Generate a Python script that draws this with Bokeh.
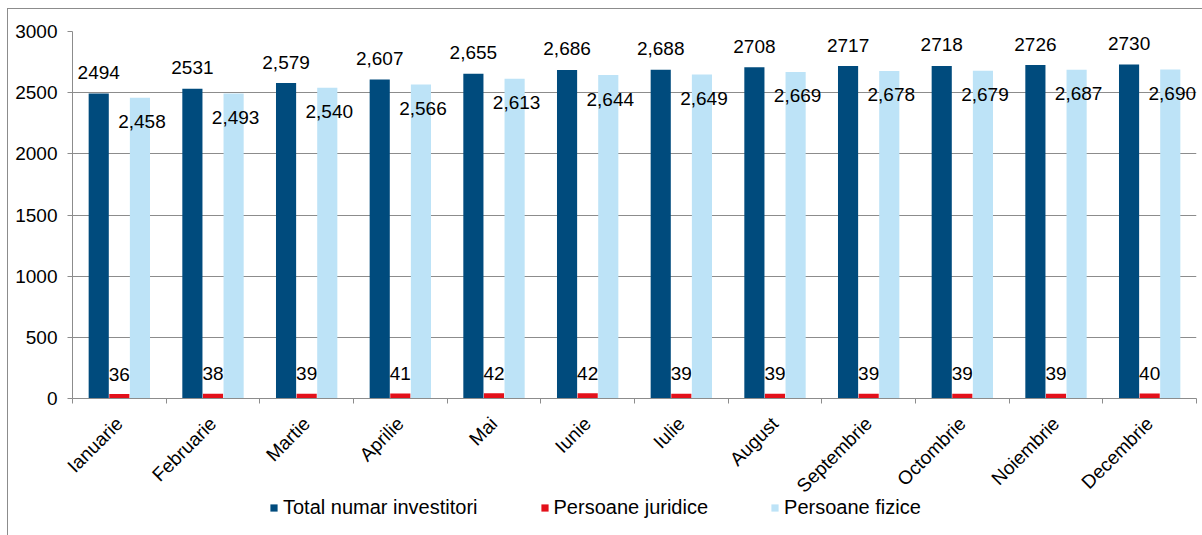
from bokeh.plotting import figure
from bokeh.layouts import column
from bokeh.models import (ColumnDataSource, FixedTicker, Range1d, Legend, LegendItem)
from bokeh.core.properties import value
from bokeh.embed import file_html
from bokeh.resources import INLINE

months = ["Ianuarie", "Februarie", "Martie", "Aprilie", "Mai", "Iunie", "Iulie",
          "August", "Septembrie", "Octombrie", "Noiembrie", "Decembrie"]
total = [2494, 2531, 2579, 2607, 2655, 2686, 2688, 2708, 2717, 2718, 2726, 2730]
juridice = [36, 38, 39, 41, 42, 42, 39, 39, 39, 39, 39, 40]
fizice = [2458, 2493, 2540, 2566, 2613, 2644, 2649, 2669, 2678, 2679, 2687, 2690]
total_labels = ["2494", "2531", "2,579", "2,607", "2,655", "2,686", "2,688",
                "2708", "2717", "2718", "2726", "2730"]
juridice_labels = [str(v) for v in juridice]
fizice_labels = ["{:,}".format(v) for v in fizice]
y_ticks = [0, 500, 1000, 1500, 2000, 2500, 3000]
series_names = ["Total numar investitori", "Persoane juridice", "Persoane fizice"]

FONT = "Liberation Sans"
C_DARK = "#004B7D"
C_RED = "#E3101A"
C_LIGHT = "#BDE3F7"
GRID = "#8C8C8C"
colors = [C_DARK, C_RED, C_LIGHT]

centers = [i + 0.5 for i in range(len(months))]
off = 0.22
bw = 0.215

src = ColumnDataSource(dict(
    xc=centers,
    xd=[c - off for c in centers],
    xl=[c + off for c in centers],
    total=total, juridice=juridice, fizice=fizice,
    tl=total_labels, jl=juridice_labels, fl=fizice_labels,
))

MAIN_H = 507
p = figure(width=1202, height=MAIN_H, output_backend="svg", toolbar_location=None,
           x_range=Range1d(0, len(months)), y_range=Range1d(0, 3000),
           min_border_left=72, min_border_right=6, min_border_top=31,
           min_border_bottom=MAIN_H - 399)
p.outline_line_color = None
p.background_fill_color = "white"
p.border_fill_color = None
p.styles = {
    "background-color": "white",
    "background-image": "linear-gradient(#8C8C8C, #8C8C8C), linear-gradient(#8C8C8C, #8C8C8C)",
    "background-size": "1px 100%, 100% 1px",
    "background-position": "7px 8px, 7px 8px",
    "background-repeat": "no-repeat",
}

p.vbar(x="xd", top="total", width=bw, source=src, fill_color=C_DARK, line_color=None)
p.vbar(x="xc", top="juridice", width=bw, source=src, fill_color=C_RED, line_color=None)
p.vbar(x="xl", top="fizice", width=bw, source=src, fill_color=C_LIGHT, line_color=None)

lbl = dict(text_font=value(FONT), text_font_size="19px", text_color="black",
           text_align="center", text_baseline="middle", source=src)
p.text(x="xd", y="total", text="tl", y_offset=-21, **lbl)
p.text(x="xc", y="juridice", text="jl", y_offset=-20, **lbl)
p.text(x="xl", y="fizice", text="fl", y_offset=24, x_offset=2, **lbl)

# axes
p.xgrid.visible = False
p.ygrid.ticker = FixedTicker(ticks=y_ticks)
p.ygrid.grid_line_color = GRID
p.ygrid.grid_line_width = 1

p.yaxis.ticker = FixedTicker(ticks=y_ticks)
p.yaxis.axis_line_color = GRID
p.yaxis.major_tick_line_color = GRID
p.yaxis.major_tick_out = 5
p.yaxis.major_tick_in = 0
p.yaxis.minor_tick_line_color = None
p.yaxis.major_label_text_font = FONT
p.yaxis.major_label_text_font_size = "19px"
p.yaxis.major_label_text_color = "black"
p.yaxis.major_label_standoff = 10

p.xaxis.ticker = FixedTicker(ticks=centers, minor_ticks=list(range(len(months) + 1)))
p.xaxis.major_label_overrides = {c: m for c, m in zip(centers, months)}
p.xaxis.major_tick_line_color = None
p.xaxis.minor_tick_line_color = GRID
p.xaxis.minor_tick_out = 5
p.xaxis.minor_tick_in = 0
p.xaxis.axis_line_color = GRID
p.xaxis.major_label_orientation = 0.785398
p.xaxis.major_label_text_font = FONT
p.xaxis.major_label_text_font_size = "19px"
p.xaxis.major_label_text_color = "black"
p.xaxis.major_label_standoff = 16

# legend strip below the chart (overlaps the chart's empty bottom slightly)
LEG_H = 38
pl = figure(width=1202, height=LEG_H, output_backend="svg", toolbar_location=None,
            x_range=Range1d(0, 1), y_range=Range1d(0, 1),
            x_axis_location=None, y_axis_location=None,
            min_border=0, min_border_left=0, min_border_right=0,
            min_border_top=0, min_border_bottom=0)
pl.grid.visible = False
pl.outline_line_color = None
pl.border_fill_color = None
pl.background_fill_color = None
pl.styles = {
    "margin-top": "-10px",
    "background-image": "linear-gradient(#8C8C8C, #8C8C8C)",
    "background-size": "1px 100%",
    "background-position": "7px 0px",
    "background-repeat": "no-repeat",
}
items = []
for name, col in zip(series_names, colors):
    # legend proxy only: a single NaN point, never drawn
    r = pl.vbar(x=[float("nan")], top=[float("nan")], width=0.1,
                fill_color=col, line_color=None)
    items.append(LegendItem(label=name, renderers=[r]))

legend = Legend(items=items, orientation="horizontal", location=(197, LEG_H - 22))
legend.border_line_color = None
legend.background_fill_alpha = 0
legend.padding = 0
legend.margin = 0
legend.spacing = 62
legend.glyph_width = 9
legend.glyph_height = 9
legend.label_standoff = 5
legend.label_text_font = FONT
legend.label_text_font_size = "20px"
legend.label_text_color = "black"
legend.label_height = 20
pl.add_layout(legend, "center")

layout = column(p, pl, spacing=0)
open("out.html", "w").write(file_html(layout, INLINE))
